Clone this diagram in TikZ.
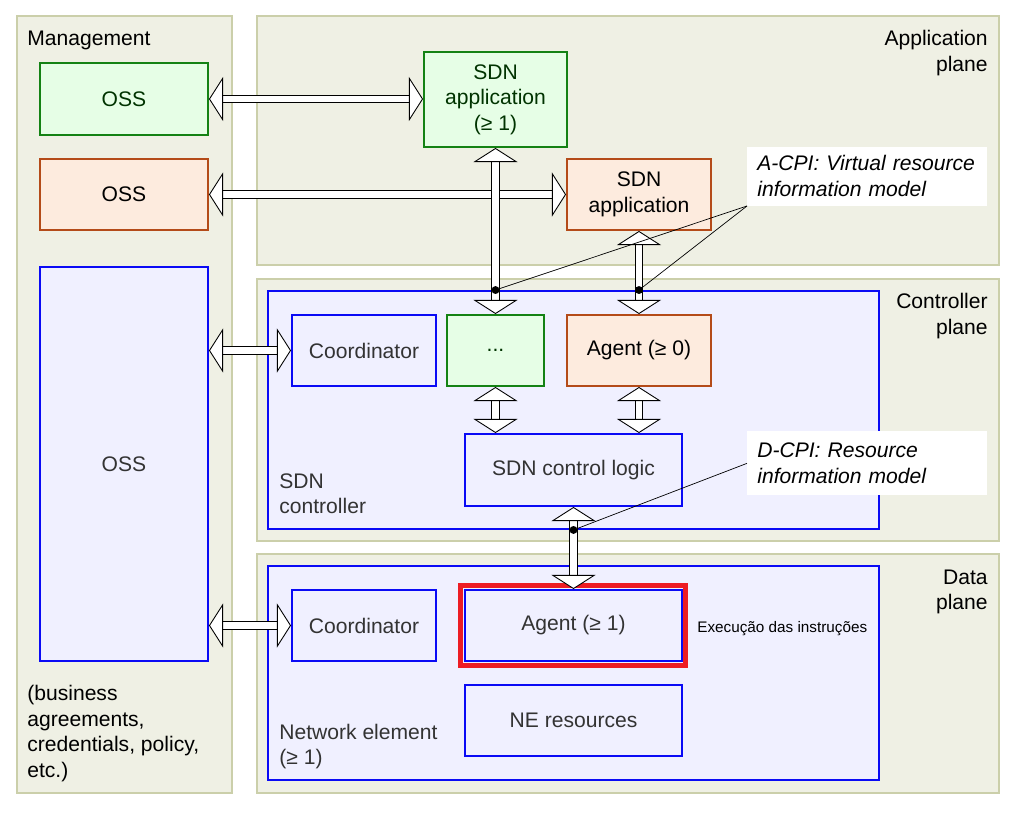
\documentclass[tikz,border=0pt]{standalone}
\usepackage{fontspec}
\setmainfont{Liberation Sans}
\usepackage{tikz}
\usetikzlibrary{
	arrows.meta
}
\definecolor{pf}{RGB}{239,240,228}
\definecolor{pb}{RGB}{203,207,170}
\definecolor{bf}{RGB}{240,240,255}
\definecolor{bb}{RGB}{10,10,245}
\definecolor{gf}{RGB}{230,254,230}
\definecolor{gb}{RGB}{20,130,20}
\definecolor{of}{RGB}{253,235,222}
\definecolor{ob}{RGB}{180,75,25}
\definecolor{hl}{RGB}{237,28,36}
\colorlet{tb}{black!80}
\colorlet{tg}{green!20!black}
\tikzset{
	every picture/.style={
		x=0.02cm,
		y=-0.02cm,
		font=\fontsize{12}{14.5}\selectfont,
	},
	boxsize/.style 2 args={
		minimum width=#1*0.02cm,
		minimum height=#2*0.02cm,
	},
}
\tikzstyle{panel} = [
	draw=pb,
	fill=pf,
	line width=.8pt,
	inner sep=0mm
]
\tikzstyle{bluebox} = [
	draw=bb,
	fill=bf,
	line width=1.1pt,
	inner sep=0mm,
	align=center,
	text=tb
]
\tikzstyle{greenbox} = [bluebox, draw=gb, fill=gf, text=tg]
\tikzstyle{orangebox} = [bluebox, draw=ob, fill=of, text=black]
\tikzstyle{redframe} = [draw=hl, line width=2.8pt, inner sep=0mm]
\tikzstyle{lbl} = [inner sep=0mm]
\tikzstyle{iface} = [
	draw=black,
	line width=.5pt,
	double=white,
	double distance=3.8pt,
	>={Triangle[fill=white, width=25pt, length=8pt, line width=.5pt]},
	<->
]
\tikzstyle{dot} = [circle, fill=black, inner sep=0mm, minimum size=4.5pt]
\tikzstyle{callout} = [
	fill=white,
	inner xsep=0.2cm,
	inner ysep=0mm,
	text width=4.4cm,
	align=left,
	font=\fontsize{12}{14.5}\selectfont\itshape
]
\tikzstyle{note} = [line width=.4pt, draw=black]

\begin{document}
\begin{tikzpicture}
	\useasboundingbox (0,0) rectangle (1017,814);

	% planes
	\node[panel, boxsize={215}{777}] (mgmt) at (124.5,404.5) {};
	\node[panel, boxsize={742}{249}] (applane) at (628,140.5) {};
	\node[panel, boxsize={742}{262}] (ctlplane) at (628,410) {};
	\node[panel, boxsize={742}{239}] (dataplane) at (628,673.5) {};

	\node[lbl, anchor=west] (mgmtlabel) at (27,40) {Management};
	\node[lbl, anchor=east, align=right] (applabel) at (988,53) {Application\\plane};
	\node[lbl, anchor=east, align=right] (ctllabel) at (988,316) {Controller\\plane};
	\node[lbl, anchor=east, align=right] (datalabel) at (988,592) {Data\\plane};
	\node[lbl, anchor=west, align=left] (policy) at (27,733.5) {(business\\agreements,\\credentials, policy,\\etc.)};

	% management
	\node[greenbox, boxsize={168}{72}] (ossA) at (124,99) {OSS};
	\node[orangebox, boxsize={168}{71}] (ossB) at (124,194.5) {OSS};
	\node[bluebox, boxsize={168}{394}] (ossC) at (124,464) {OSS};

	% application plane
	\node[greenbox, boxsize={143}{95}] (appA) at (495.5,99.5) {SDN\\application\\(≥ 1)};
	\node[orangebox, boxsize={144}{71}] (appB) at (639,194.5) {SDN\\application};

	% controller plane
	\node[bluebox, boxsize={611}{238}] (ctl) at (573.5,410) {};
	\node[lbl, anchor=west, align=left, text=tb] (ctllbl) at (279,493.5) {SDN\\controller};
	\node[bluebox, boxsize={144}{71}] (coordC) at (364,350.5) {Coordinator};
	\node[greenbox, boxsize={97}{71}] (other) at (495.5,350.5) {...};
	\node[orangebox, boxsize={144}{71}] (agentC) at (639,350.5) {Agent (≥ 0)};
	\node[bluebox, boxsize={217}{72}] (logic) at (573.5,470) {SDN control logic};

	% data plane
	\node[bluebox, boxsize={611}{214}] (ne) at (573.5,673) {};
	\node[lbl, anchor=west, align=left, text=tb] (nelbl) at (279,746.5) {Network element\\(≥ 1)};
	\node[bluebox, boxsize={144}{71}] (coordD) at (364,625.5) {Coordinator};
	\node[redframe, boxsize={225}{80}] (mark) at (573,625.5) {};
	\node[bluebox, boxsize={217}{71}] (agentD) at (573.5,625.5) {Agent (≥ 1)};
	\node[bluebox, boxsize={217}{71}] (neres) at (573.5,720.5) {NE resources};
	\node[lbl, anchor=west, font=\fontsize{8.7}{11}\selectfont] (exec) at (697,629) {Execução das instruções};

	% interfaces
	\draw[iface] (ossA.east) -- (ossA.east -| appA.west);
	\draw[iface] (ossB.east) -- (appB.west);
	\draw[iface] (appA.south) -- (appA.south |- other.north);
	\draw[iface] (appB.south) -- (agentC.north);
	\draw[iface] (other.south) -- (other.south |- logic.north);
	\draw[iface] (agentC.south) -- (agentC.south |- logic.north);
	\draw[iface] (logic.south) -- (agentD.north);
	\draw[iface] (ossC.east |- coordC) -- (coordC.west);
	\draw[iface] (ossC.east |- coordD) -- (coordD.west);

	% reference points
	\node[dot] (acpiA) at (appA.south |- ctl.north) {};
	\node[dot] (acpiB) at (appB.south |- ctl.north) {};
	\node[dot] (dcpiA) at (logic.south |- ctl.south) {};

	\node[callout, anchor=south west, minimum height=1.18cm] (acpi) at (747,206) {A-CPI: Virtual resource\\information model};
	\node[callout, anchor=north west, minimum height=1.28cm] (dcpi) at (747,431) {D-CPI: Resource\\information model};

	\draw[note] (acpiA) -- (acpi.south west);
	\draw[note] (acpiB) -- (acpi.south west);
	\draw[note] (dcpiA) -- (dcpi.west);
\end{tikzpicture}
\end{document}
